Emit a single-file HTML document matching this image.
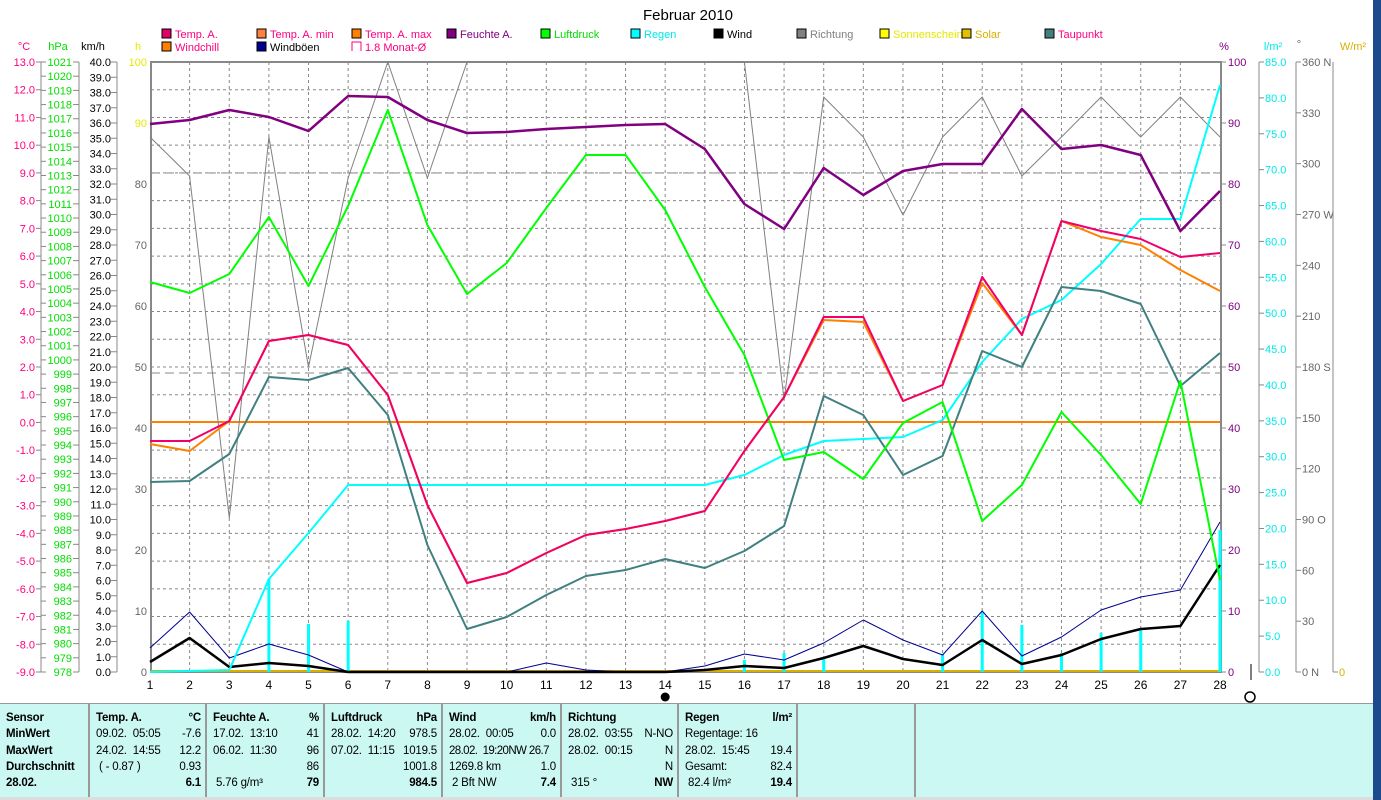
<!DOCTYPE html>
<html><head><meta charset="utf-8"><style>
body{margin:0;width:1381px;height:800px;overflow:hidden;background:#fff;font-family:"Liberation Sans",sans-serif}
svg{position:absolute;left:0;top:0}
.tb{position:absolute;left:0;top:703px;width:1373px;height:94px;background:#ccf8f4;border-top:1px solid #999}
.col{position:absolute;top:0;height:94px;border-left:2px solid #999;font-size:11.5px;line-height:16.3px;padding-top:6px;box-sizing:border-box}
.r{display:flex;justify-content:space-between;padding:0 4px 0 6px;white-space:pre;letter-spacing:-0.2px}
b{font-weight:bold}
</style></head><body>
<svg id="s" width="1381" height="800" xmlns="http://www.w3.org/2000/svg" font-family="Liberation Sans, sans-serif"></svg>
<div class="tb">
<div class="col" style="left:0;width:88px;border-left:none"><div class="r"><b>Sensor</b></div><div class="r"><b>MinWert</b></div><div class="r"><b>MaxWert</b></div><div class="r"><b>Durchschnitt</b></div><div class="r"><b>28.02.</b></div></div>
<div class="col" style="left:88px;width:117px"><div class="r"><b>Temp. A.</b><b>°C</b></div><div class="r"><span>09.02.  05:05</span><span>-7.6</span></div><div class="r"><span>24.02.  14:55</span><span>12.2</span></div><div class="r"><span> ( - 0.87 )</span><span>0.93</span></div><div class="r"><span></span><b>6.1</b></div></div>
<div class="col" style="left:205px;width:118px"><div class="r"><b>Feuchte A.</b><b>%</b></div><div class="r"><span>17.02.  13:10</span><span>41</span></div><div class="r"><span>06.02.  11:30</span><span>96</span></div><div class="r"><span></span><span>86</span></div><div class="r"><span> 5.76 g/m³</span><b>79</b></div></div>
<div class="col" style="left:323px;width:118px"><div class="r"><b>Luftdruck</b><b>hPa</b></div><div class="r"><span>28.02.  14:20</span><span>978.5</span></div><div class="r"><span>07.02.  11:15</span><span>1019.5</span></div><div class="r"><span></span><span>1001.8</span></div><div class="r"><span></span><b>984.5</b></div></div>
<div class="col" style="left:441px;width:119px"><div class="r"><b>Wind</b><b>km/h</b></div><div class="r"><span>28.02.  00:05</span><span>0.0</span></div><div class="r" style="letter-spacing:-0.6px"><span>28.02.  19:20NW 26.7</span></div><div class="r"><span>1269.8 km</span><span>1.0</span></div><div class="r"><span> 2 Bft NW</span><b>7.4</b></div></div>
<div class="col" style="left:560px;width:117px"><div class="r"><b>Richtung</b></div><div class="r"><span>28.02.  03:55</span><span>N-NO</span></div><div class="r"><span>28.02.  00:15</span><span>N</span></div><div class="r"><span></span><span>N</span></div><div class="r"><span> 315 °</span><b>NW</b></div></div>
<div class="col" style="left:677px;width:119px"><div class="r"><b>Regen</b><b>l/m²</b></div><div class="r"><span>Regentage: 16</span></div><div class="r"><span>28.02.  15:45</span><span>19.4</span></div><div class="r"><span>Gesamt:</span><span>82.4</span></div><div class="r"><span> 82.4 l/m²</span><b>19.4</b></div></div>
<div class="col" style="left:796px;width:118px"></div>
<div class="col" style="left:914px;width:459px"></div>
</div>
<div style="position:absolute;left:0;top:797px;width:1373px;height:3px;background:#ddd"></div>
<div style="position:absolute;left:1373px;top:0;width:8px;height:800px;background:#1c4a8c"></div>
<script>
const s=document.getElementById('s');let h='';
const X=d=>150+(d-1)*(1070/27);
const T=(x,y,t,c,a,sz)=>{h+=`<text x="${x}" y="${y}" fill="${c}" font-size="${sz||11}" text-anchor="${a||'start'}">${t}</text>`};
const L=(x1,y1,x2,y2,c,w,da)=>{h+=`<line x1="${x1}" y1="${y1}" x2="${x2}" y2="${y2}" stroke="${c}" stroke-width="${w||1}" ${da?`stroke-dasharray="${da}"`:''}/>`};
T(688,20,'Februar 2010','#000','middle',15);
for(let d=2;d<=27;d++)L(X(d),62,X(d),672,'#888',1,'3,3');
for(let i=1;i<22;i++){let y=62+i*610/22;L(151,y,1220,y,'#888',1,'3,3');}
L(151,173,1220,173,'#888',1,'9,5');L(151,373,1220,373,'#888',1,'9,5');
h+=`<rect x="151" y="62" width="1070" height="610" fill="none" stroke="#888" stroke-width="2"/>`;
for(let i=0;i<=44;i++){let y=62+i*610/44;let v=13-i*0.5;if(i%2==0){T(35,y+4,v.toFixed(1),'#ff0080','end');L(36,y,41,y,'#888');}}
L(41,62,41,672,'#888');
for(let i=0;i<=43;i++){let y=62+i*610/43;T(72,y+4,1021-i,'#00dd00','end');L(41,y,46,y,'#888');L(73,y,79,y,'#888');}
L(79,62,79,672,'#888');
for(let i=0;i<=40;i++){let y=62+i*610/40;T(111,y+4,(40-i).toFixed(1),'#000','end');L(111,y,117,y,'#888');}
L(117,62,117,672,'#888');
for(let i=0;i<=10;i++){let y=62+i*61;T(147,y+4,100-i*10,i<2?'#e8e800':'#666','end');}
T(24,50,'°C','#ff0080','middle');T(58,50,'hPa','#00dd00','middle');T(93,50,'km/h','#000','middle');T(138,50,'h','#e8e800','middle');
for(let i=0;i<=10;i++){let y=62+i*61;L(1221,y,1226,y,'#888');T(1228,y+4,100-i*10,'#800080');}
L(1259,62,1259,672,'#888');
for(let i=0;i<=17;i++){let y=62+i*610/17;L(1259,y,1264,y,'#888');T(1265,y+4,(85-i*5).toFixed(1),'#00e8e8');}
L(1296,62,1296,672,'#888');
const dl={0:'360 N',3:'270 W',6:'180 S',9:'90  O',12:'0   N'};
for(let i=0;i<=12;i++){let y=62+i*610/12;L(1296,y,1301,y,'#888');T(1302,y+4,dl[i]||(360-i*30),'#666');}
L(1333,62,1333,672,'#888');L(1333,672,1338,672,'#888');T(1339,676,'0','#d8b000');
T(1224,50,'%','#800080','middle');T(1273,50,'l/m²','#00e8e8','middle');T(1299,48,'°','#666','middle');T(1353,50,'W/m²','#d8b000','middle');
L(1251,664,1251,680,'#000');
const lg=[[162,38,'#e0006a','Temp. A.','#ff0080'],[257,38,'#ff8040','Temp. A. min','#ff0080'],[352,38,'#ff8000','Temp. A. max','#ff0080'],[447,38,'#800080','Feuchte A.','#800080'],[541,38,'#00ff00','Luftdruck','#00dd00'],[631,38,'#00ffff','Regen','#00e8e8'],[714,38,'#000','Wind','#000'],[797,38,'#808080','Richtung','#808080'],[880,38,'#ffff00','Sonnenschein','#e8e800'],[962,38,'#e0c000','Solar','#d8b000'],[1045,38,'#408080','Taupunkt','#ff0080'],[162,51,'#ff8000','Windchill','#ff0080'],[257,51,'#000090','Windböen','#000']];
lg.forEach(a=>{h+=`<rect x="${a[0]}" y="${a[1]-9}" width="9" height="9" fill="${a[2]}" stroke="#000"/>`;T(a[0]+13,a[1],a[3],a[4],'start',11);});
h+=`<path d="M352 51V42H361V51" fill="none" stroke="#ff0080"/>`;T(365,51,'1.8 Monat-Ø','#ff0080','start',11);
for(let d=1;d<=28;d++)T(X(d),689,d,'#000','middle',12);
h+=`<circle cx="${X(14)}" cy="697" r="4.5" fill="#000"/><circle cx="1250" cy="697" r="5" fill="none" stroke="#000" stroke-width="1.5"/>`;
L(151,422,1220,422,'#ff8000',2);L(151,671,1220,671,'#d8b000',2);
[[4,579],[5,624],[6,621],[16,660],[17,653],[18,657],[21,654],[22,612],[23,625],[24,653],[25,633],[26,628],[28,530]].forEach(b=>L(X(b[0]),672,X(b[0]),b[1],'#00ffff',3));
const P=(a,c,w)=>{h+=`<polyline fill="none" stroke="${c}" stroke-width="${w}" stroke-linejoin="round" points="${a.map((y,i)=>X(i+1).toFixed(1)+','+y).join(' ')}"/>`};
P([137,176,518,137,367,178,62,178,62,62,62,62,62,62,62,62,400,97,137,215,137,97,176,137,97,137,97,137],'#808080',1);
P([648,612,658,644,655,672,672,672,672,672,663,670,672,672,666,654,660,643,620,640,655,611,656,637,610,597,590,522],'#000090',1);
P([662,638,667,663,666,672,672,672,672,672,672,672,672,672,670,666,668,658,646,659,665,640,664,655,639,629,626,565],'#000',2.5);
P([672,671,670,579,533,485,485,485,485,485,485,485,485,485,485,475,455,441,439,437,420,362,319,300,264,219,219,85],'#00ffff',2);
P([482,481,454,377,380,368,415,545,629,617,595,576,570,559,568,551,526,396,415,475,456,351,367,287,291,304,386,353],'#408080',2);
P([282,293,274,217,286,206,110,225,294,263,208,155,155,210,287,355,460,452,479,423,402,521,485,412,455,504,381,580],'#00ff00',2);
P([124,120,110,117,131,96,97,120,133,132,129,127,125,124,149,204,229,168,195,171,164,164,109,149,145,155,231,191],'#800080',2.5);
P([444,451,421,341,335,345,395,505,583,573,553,535,529,521,511,451,397,320,322,401,385,283,335,221,237,245,270,291],'#ff8000',2);
P([441,441,421,341,335,345,395,505,583,573,553,535,529,521,511,451,397,317,317,401,385,277,335,221,231,239,257,253],'#f0006a',2);
s.innerHTML=h;
</script>
</body></html>
